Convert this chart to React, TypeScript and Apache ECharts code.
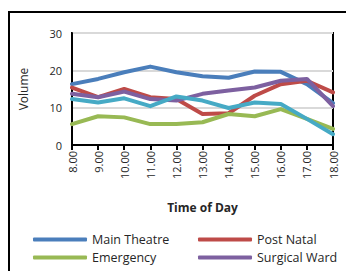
import React, { useEffect, useRef } from "react";
import * as echarts from "echarts";

const categories = ["8.00", "9.00", "10.00", "11.00", "12.00", "13.00", "14.00", "15.00", "16.00", "17.00", "18.00"];
const mainTheatre = [16.3, 17.7, 19.5, 21, 19.5, 18.4, 18, 19.7, 19.6, 16.3, 11.2];
const postNatal = [15.4, 12.8, 15, 12.8, 12.3, 8.3, 8.5, 13.2, 16.3, 17.2, 14.1];
const emergency = [5.6, 7.7, 7.4, 5.6, 5.6, 6.1, 8.3, 7.7, 9.6, 7, 4.3];
const surgicalWard = [13.7, 12.8, 14.3, 12.3, 11.9, 13.7, 14.6, 15.4, 17.2, 17.7, 10.4];
const series5 = [12.3, 11.4, 12.5, 10.4, 13, 11.9, 9.9, 11.4, 11, 7, 2.9];
const yTicks = { min: 0, max: 30, interval: 10 };

const FONT = "Open Sans";

export default function App() {
  const ref = useRef<HTMLDivElement>(null);
  useEffect(() => {
    document.body.style.margin = "0";
    const chart = echarts.init(ref.current!, undefined, { renderer: "svg" });
    const mk = (name: string, data: number[], color: string) => ({
      name,
      type: "line",
      data,
      symbol: "none",
      lineStyle: { width: 4, color, cap: "round", join: "round" },
      itemStyle: { color },
    });
    const leg = (name: string, left: number, top: number) => ({
      data: [name],
      left,
      top,
      icon: "roundRect",
      itemWidth: 54,
      itemHeight: 4,
      itemGap: 0,
      padding: 0,
      textStyle: { fontFamily: FONT, fontSize: 12.5, color: "#262626", padding: [0, 0, 0, 0] },
    });
    chart.setOption({
      animation: false,
      graphic: [
        {
          type: "rect",
          shape: { x: 9, y: 12, width: 400, height: 300 },
          style: { fill: "none", stroke: "#000", lineWidth: 2 },
          silent: true,
        },
      ],
      grid: { left: 72, top: 33, width: 261, height: 112, show: true, borderColor: "#000", borderWidth: 2, backgroundColor: "transparent" },
      legend: [
        leg("Main Theatre", 33, 233),
        leg("Post Natal", 198, 233),
        leg("Emergency", 33, 251),
        leg("Surgical Ward", 198, 251),
      ],
      xAxis: {
        type: "category",
        data: categories,
        boundaryGap: false,
        axisLine: { lineStyle: { color: "#000", width: 2 } },
        axisTick: { show: true, alignWithLabel: true, length: 5, lineStyle: { color: "#000", width: 2 } },
        axisLabel: { rotate: 90, fontFamily: FONT, fontSize: 11, color: "#262626", margin: 6 },
        name: "Time of Day",
        nameLocation: "middle",
        nameGap: 56,
        nameTextStyle: { fontFamily: FONT, fontSize: 12, fontWeight: "bold", color: "#262626" },
      },
      yAxis: {
        type: "value",
        min: yTicks.min,
        max: yTicks.max,
        interval: yTicks.interval,
        axisLine: { show: true, lineStyle: { color: "#000", width: 2 } },
        axisTick: { show: false },
        splitLine: { lineStyle: { color: "#d9d9d9", width: 2 } },
        axisLabel: { fontFamily: FONT, fontSize: 11, color: "#262626", margin: 10 },
        name: "Volume",
        nameLocation: "middle",
        nameGap: 43,
        nameTextStyle: { fontFamily: FONT, fontSize: 12, color: "#262626" },
      },
      series: [
        mk("Main Theatre", mainTheatre, "#4a7ebb"),
        mk("Post Natal", postNatal, "#be4b48"),
        mk("Emergency", emergency, "#98b954"),
        mk("Surgical Ward", surgicalWard, "#7d60a0"),
        mk("Series 5", series5, "#46aac5"),
      ],
    });
    return () => chart.dispose();
  }, []);
  return <div ref={ref} style={{ width: 346, height: 271 }} />;
}
